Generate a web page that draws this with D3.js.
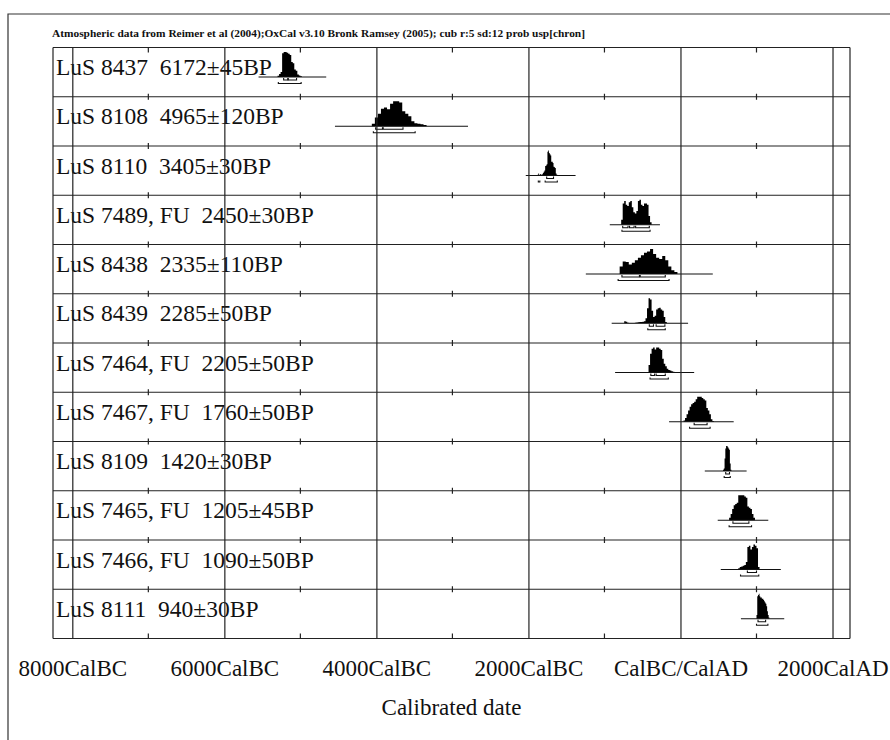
<!DOCTYPE html>
<html><head><meta charset="utf-8">
<script src="https://cdn.jsdelivr.net/npm/d3@7"></script>
<style>
body{margin:0;background:#fff}
text{font-family:"Liberation Serif","Times New Roman",serif;fill:#111}
</style>
</head><body>
<svg id="c" width="890" height="740"></svg>
<script>
// ---------- DATA ----------
const headerText = "Atmospheric data from Reimer et al (2004);OxCal v3.10 Bronk Ramsey (2005); cub r:5 sd:12 prob usp[chron]";
const axisTitle = "Calibrated date";
const labels = [
  "LuS 8437  6172±45BP",
  "LuS 8108  4965±120BP",
  "LuS 8110  3405±30BP",
  "LuS 7489, FU  2450±30BP",
  "LuS 8438  2335±110BP",
  "LuS 8439  2285±50BP",
  "LuS 7464, FU  2205±50BP",
  "LuS 7467, FU  1760±50BP",
  "LuS 8109  1420±30BP",
  "LuS 7465, FU  1205±45BP",
  "LuS 7466, FU  1090±50BP",
  "LuS 8111  940±30BP"
];
const majorYears = [-8000, -6000, -4000, -2000, 0, 2000];
const tickLabels = ["8000CalBC", "6000CalBC", "4000CalBC", "2000CalBC", "CalBC/CalAD", "2000CalAD"];
const minorYears = [-7000, -5000, -3000, -1000, 1000];
// horizontal line under each distribution (plotted range)
const rangeFrom = [-5550, -4545, -2035, -930, -1245, -905, -860, -150, 320, 490, 530, 795];
const rangeTo   = [-4660, -2795, -1380, -270,  425,  100,  180,  700, 870, 1155, 1320, 1365];
// probability distributions (start year, bin width, relative heights)
const distStart = [-5300, -4060, -1880, -780, -800, -740, -420, 40, 560, 640, 760, 1000];
const distStep  = [20, 40, 10, 20, 40, 20, 20, 20, 10, 20, 20, 10];
const distValues = [
  [0.05,0.12,0.2,0.95,1.0,1.0,0.97,0.93,0.88,0.6,0.55,0.3,0.25,0.1,0.06,0.03],
  [0.1,0.35,0.5,0.7,0.75,0.68,0.9,1.0,1.0,0.95,0.6,0.5,0.4,0.2,0.12,0.1,0.08,0.05],
  [0.03,0.08,0.0,0.06,0.04,0.03,0.05,0.1,0.15,0.2,0.38,0.4,0.45,0.95,1.0,0.9,0.85,0.8,0.55,0.55,0.5,0.35,0.33,0.3,0.08,0.03],
  [0.2,0.85,0.95,0.8,0.75,0.9,0.95,0.7,0.5,0.45,0.55,0.95,1.0,0.8,0.75,0.85,0.85,0.8,0.35,0.1],
  [0.3,0.5,0.48,0.38,0.45,0.55,0.65,0.75,0.85,0.9,1.0,0.8,0.65,0.6,0.72,0.55,0.3,0.15,0.08],
  [0.08,0.06,0.02,0.01,0.01,0.01,0.01,0.02,0.03,0.04,0.05,0.05,0.06,0.08,0.2,0.6,1.0,0.95,0.5,0.25,0.3,0.55,0.6,0.62,0.55,0.5,0.25,0.05],
  [0.3,0.75,0.95,1.0,0.92,1.0,1.0,0.95,0.9,0.55,0.35,0.25,0.15,0.1,0.08,0.05,0.03],
  [0.05,0.15,0.3,0.45,0.6,0.7,0.75,0.8,0.9,1.0,1.0,1.0,0.95,0.9,0.85,0.55,0.45,0.3,0.1,0.03],
  [0.05,0.1,0.5,0.9,1.0,1.0,0.95,0.9,0.85,0.3,0.05],
  [0.1,0.25,0.45,0.6,0.65,0.7,1.0,1.0,1.0,1.0,0.95,0.9,0.55,0.5,0.45,0.25,0.1],
  [0.05,0.1,0.12,0.15,0.18,0.3,0.9,0.95,0.8,0.9,1.0,0.95,0.85,0.1],
  [0.15,0.9,0.95,1.0,0.9,0.85,0.85,0.8,0.8,0.75,0.7,0.65,0.6,0.5,0.3,0.15,0.05]
];
// 68.2% and 95.4% ranges
const sigma1 = [
  [[-5220,-5165],[-5160,-5050]],
  [[-4010,-3920],[-3910,-3650]],
  [[-1760,-1670]],
  [[-760,-690],[-670,-610],[-590,-410]],
  [[-770,-540],[-530,-200]],
  [[-410,-355],[-320,-205]],
  [[-390,-340],[-320,-200]],
  [[180,350]],
  [[595,645]],
  [[690,900]],
  [[880,1000]],
  [[1020,1120]]
];
const sigma2 = [
  [[-5290,-4990]],
  [[-4040,-3490]],
  [[-1870,-1850],[-1780,-1620]],
  [[-770,-400]],
  [[-820,-150]],
  [[-430,-200]],
  [[-400,-160]],
  [[120,390]],
  [[575,655]],
  [[640,935]],
  [[790,1030]],
  [[1000,1150]]
];

// ---------- LAYOUT ----------
const plotL = 53, plotR = 850, plotT = 47.5, plotB = 638.5;
const svg = d3.select("#c");
const x = d3.scaleLinear().domain([-8254, 2230]).range([plotL, plotR]);
const y = d3.scaleBand().domain(d3.range(labels.length)).range([plotT, plotB]);
const lineCol = "#222";

// outer frame (left + top)
svg.append("path").attr("d", "M8,740V14H890")
  .attr("fill", "none").attr("stroke", "#333").attr("stroke-width", 1.2);

// header
svg.append("text").attr("x", 52).attr("y", 36.5)
  .attr("font-size", 10).attr("font-weight", "bold")
  .attr("textLength", 533).attr("lengthAdjust", "spacingAndGlyphs")
  .text(headerText);

// row labels
svg.append("g").selectAll("text").data(labels).join("text")
  .attr("x", 56).attr("y", (d, i) => y(i) + 27.5)
  .attr("font-size", 23.5).style("white-space", "pre")
  .text(d => d);

// distributions
const g = svg.append("g");
labels.forEach((lab, i) => {
  const base = y(i) + 29.5;
  const pts = distValues[i].map((v, k) => [distStart[i] + k * distStep[i], v])
    .concat([[distStart[i] + distValues[i].length * distStep[i], 0]]);
  const area = d3.area().x(d => x(d[0])).y0(base).y1(d => base - d[1] * 25).curve(d3.curveStepAfter);
  g.append("path").attr("d", area(pts)).attr("fill", "#000");
  g.append("line").attr("x1", x(rangeFrom[i])).attr("x2", x(rangeTo[i]))
    .attr("y1", base).attr("y2", base).attr("stroke", "#111").attr("stroke-width", 1.1);
  const bars = (arr, yy, h) => arr.forEach(r => {
    g.append("path").attr("d", `M${x(r[0])},${yy - h}V${yy}H${x(r[1])}V${yy - h}`)
      .attr("fill", "none").attr("stroke", "#111").attr("stroke-width", 1.1);
  });
  bars(sigma1[i], base + 3, 2);
  bars(sigma2[i], base + 6.5, 1.5);
});

// major vertical gridlines via axis
const grid = svg.append("g").attr("transform", `translate(0,${plotB})`)
  .call(d3.axisBottom(x).tickValues(majorYears).tickSize(-(plotB - plotT)).tickFormat(""));
grid.select(".domain").remove();
grid.selectAll("line").attr("stroke", lineCol).attr("stroke-width", 1.2);

// horizontal row lines + frame sides
const bounds = d3.range(labels.length + 1).map(i => i < labels.length ? y(i) : plotB);
svg.append("g").selectAll("line").data(bounds).join("line")
  .attr("x1", plotL).attr("x2", plotR).attr("y1", d => d).attr("y2", d => d)
  .attr("stroke", lineCol).attr("stroke-width", 1.2);
svg.append("g").selectAll("line").data([plotL, plotR]).join("line")
  .attr("x1", d => d).attr("x2", d => d).attr("y1", plotT).attr("y2", plotB)
  .attr("stroke", lineCol).attr("stroke-width", 1.2);

// minor ticks on each row boundary
bounds.forEach((b, i) => {
  const up = i === 0 ? 0 : (i === labels.length ? 5 : 3);
  const down = i === labels.length ? 0 : (i === 0 ? 5 : 3);
  svg.append("g").selectAll("line").data(minorYears).join("line")
    .attr("x1", d => x(d)).attr("x2", d => x(d))
    .attr("y1", b - up).attr("y2", b + down)
    .attr("stroke", lineCol).attr("stroke-width", 1.2);
});

// tick labels
const ax = svg.append("g").attr("transform", `translate(0,${plotB})`)
  .call(d3.axisBottom(x).tickValues(majorYears).tickSize(0).tickFormat((d, i) => tickLabels[i]));
ax.select(".domain").remove();
ax.selectAll("text").attr("y", 676 - plotB).attr("dy", 0)
  .attr("font-size", 23).attr("font-family", '"Liberation Serif",serif').attr("fill", "#111");

// axis title
svg.append("text").attr("x", (plotL + plotR) / 2).attr("y", 715)
  .attr("text-anchor", "middle").attr("font-size", 23).text(axisTitle);
</script>
</body></html>
